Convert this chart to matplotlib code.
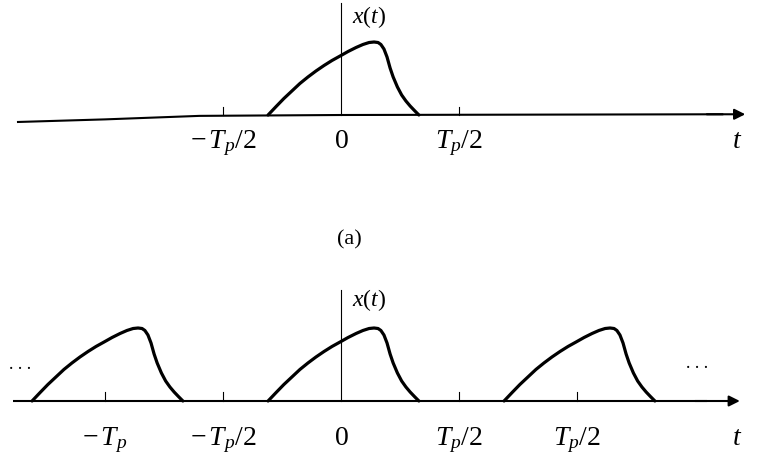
import matplotlib
matplotlib.use("Agg")
import matplotlib.pyplot as plt
import numpy as np

plt.rcParams['mathtext.fontset'] = 'custom'
plt.rcParams['mathtext.rm'] = 'Liberation Serif'
plt.rcParams['mathtext.it'] = 'Liberation Serif:italic'
plt.rcParams['font.family'] = ['Liberation Serif', 'DejaVu Serif']

# one pulse of x(t): time in units of T_p, amplitude relative to peak
pulse_t = [-0.309, -0.275, -0.242, -0.208, -0.174, -0.140, -0.106, -0.072, -0.038,
           -0.004, 0.030, 0.064, 0.093, 0.119, 0.140, 0.157, 0.169, 0.182, 0.195,
           0.208, 0.221, 0.239, 0.257, 0.275, 0.293, 0.311, 0.330]
pulse_x = [0.0, 0.116, 0.226, 0.329, 0.432, 0.521, 0.603, 0.678, 0.747,
           0.808, 0.870, 0.925, 0.966, 0.993, 1.0, 0.993, 0.966, 0.904, 0.795,
           0.644, 0.521, 0.384, 0.274, 0.192, 0.123, 0.062, 0.0]

periods = [-1, 0, 1]

top_ticks = [-0.5, 0.5]
top_labels = [r'$-\,T_p/2$', r'$0$', r'$T_p/2$']
top_label_pos = [-0.5, 0.0, 0.5]

bot_ticks = [-1.0, -0.5, 0.5, 1.0]
bot_labels = [r'$-\,T_p$', r'$-\,T_p/2$', r'$0$', r'$T_p/2$', r'$T_p/2$']
bot_label_pos = [-1.0, -0.5, 0.0, 0.5, 1.0]

# top axis line (slightly slanted at the left in the scan)
top_axis_t = [-1.373, -1.0, -0.6, 0.0, 1.62]
top_axis_y = [-0.096, -0.06, -0.012, 0.0, 0.01]

W, H = 767, 467
fig = plt.figure(figsize=(W / 100, H / 100), dpi=100)

x0_px = 341.0
tp_px = 236.0
amp_px = 73.0
xlim = (-x0_px / tp_px, (W - x0_px) / tp_px)


def make_ax(top_px, bot_px, base_px):
    hpx = bot_px - top_px
    ax = fig.add_axes([0, (H - bot_px) / H, 1, hpx / H])
    ax.set_xlim(*xlim)
    ax.set_ylim(-(bot_px - base_px) / amp_px, (base_px - top_px) / amp_px)
    ax.axis('off')
    return ax


lw_axis = 1.5
lw_pulse = 2.3
lw_thin = 0.8
fs = 20

# ---------------- panel (a) ----------------
ax1 = make_ax(0, 200, 115)
ax1.plot(top_axis_t, top_axis_y, color='black', lw=lw_axis, solid_capstyle='butt')
ax1.annotate('', xy=(1.713, 0.01), xytext=(1.55, 0.01),
             arrowprops=dict(arrowstyle='-|>', mutation_scale=16, lw=lw_axis,
                             color='black', shrinkA=0, shrinkB=0))
ax1.plot([0, 0], [0, 1.53], color='black', lw=lw_thin)
for tk in top_ticks:
    ax1.plot([tk, tk], [0, 0.11], color='black', lw=lw_thin)
ax1.plot(pulse_t, pulse_x, color='black', lw=lw_pulse, solid_joinstyle='round',
         solid_capstyle='round')
for lab, p in zip(top_labels, top_label_pos):
    ax1.text(p, -0.45, lab, ha='center', va='baseline', fontsize=fs)
ax1.text(1.678, -0.45, r'$t$', ha='center', va='baseline', fontsize=fs)
ax1.text(0.045, 1.34, r'$x(t)$', ha='left', va='center', fontsize=17)

# caption (a)
fig.text(349 / W, 1 - 240 / H, '(a)', ha='center', va='center', fontsize=16)

# ---------------- panel (b) ----------------
ax2 = make_ax(260, 467, 401)
ax2.plot([-1.39, 1.55], [0, 0], color='black', lw=lw_axis, solid_capstyle='butt')
ax2.annotate('', xy=(1.69, 0.0), xytext=(1.5, 0.0),
             arrowprops=dict(arrowstyle='-|>', mutation_scale=16, lw=lw_axis,
                             color='black', shrinkA=0, shrinkB=0))
ax2.plot([0, 0], [0, 1.52], color='black', lw=lw_thin)
for tk in bot_ticks:
    ax2.plot([tk, tk], [0, 0.13], color='black', lw=lw_thin)
for k in periods:
    ax2.plot(np.array(pulse_t) + k, pulse_x, color='black', lw=lw_pulse,
             solid_joinstyle='round', solid_capstyle='round')
for lab, p in zip(bot_labels, bot_label_pos):
    ax2.text(p, -0.60, lab, ha='center', va='baseline', fontsize=fs)
ax2.text(1.678, -0.60, r'$t$', ha='center', va='baseline', fontsize=fs)
ax2.text(0.045, 1.38, r'$x(t)$', ha='left', va='center', fontsize=17)
ax2.text(-1.36, 0.50, '. . .', ha='center', va='center', fontsize=13)
ax2.text(1.51, 0.52, '. . .', ha='center', va='center', fontsize=13)

fig.savefig('out.png', dpi=100)
